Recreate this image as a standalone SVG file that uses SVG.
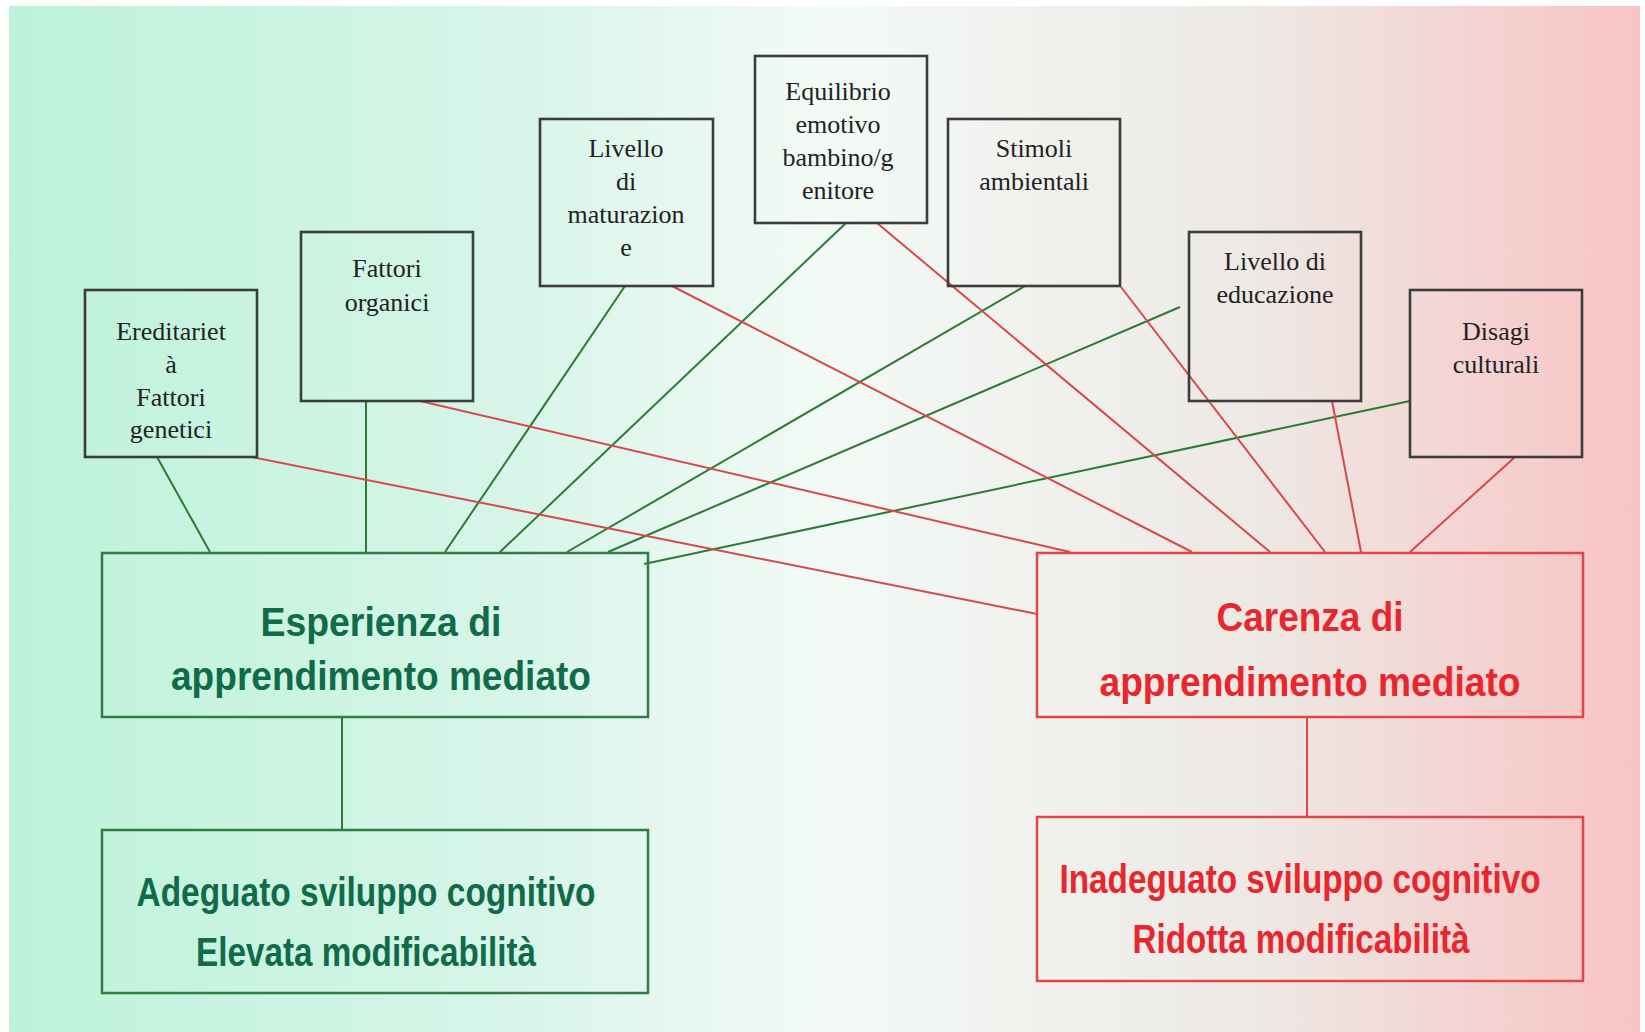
<svg xmlns="http://www.w3.org/2000/svg" width="1645" height="1032" viewBox="0 0 1645 1032">
<defs>
<linearGradient id="bg" x1="0" y1="0" x2="1" y2="0">
<stop offset="0" stop-color="#bdf2da"/>
<stop offset="0.3" stop-color="#d6f5e8"/>
<stop offset="0.5" stop-color="#f3faf6"/>
<stop offset="0.76" stop-color="#ede9e5"/>
<stop offset="1" stop-color="#f8c4c4"/>
</linearGradient>
<style>
.top rect{fill:none;stroke:#3c3c3c;stroke-width:2.6}
.top text{font-family:"Liberation Serif","Times New Roman",serif;font-size:26px;fill:#222;text-anchor:middle}
.g rect{fill:none;stroke:#2f7d45;stroke-width:2.5}
.g text{font-family:"Liberation Sans",Arial,sans-serif;font-weight:bold;font-size:40px;fill:#0f6b48;text-anchor:middle}
.r rect{fill:none;stroke:#e04646;stroke-width:2.5}
.r text{font-family:"Liberation Sans",Arial,sans-serif;font-weight:bold;font-size:40px;fill:#e8262c;text-anchor:middle}
.gl{stroke:#2d7a34;stroke-width:2;fill:none}
.rl{stroke:#d94848;stroke-width:2;fill:none}
</style>
</defs>
<rect x="0" y="0" width="1645" height="1032" fill="#ffffff"/>
<rect x="9" y="6" width="1631" height="1026" fill="url(#bg)"/>

<g id="connectors">
<line class="gl" x1="157" y1="457" x2="210" y2="552"/>
<line class="gl" x1="366" y1="401" x2="366" y2="552"/>
<line class="gl" x1="625" y1="286" x2="445" y2="552"/>
<line class="gl" x1="846" y1="223" x2="500" y2="552"/>
<line class="gl" x1="1025" y1="286" x2="567" y2="552"/>
<line class="gl" x1="1180" y1="307" x2="608" y2="552"/>
<line class="gl" x1="1410" y1="401" x2="644" y2="564"/>
<line class="rl" x1="252" y1="457" x2="1037" y2="614"/>
<line class="rl" x1="420" y1="401" x2="1070" y2="552"/>
<line class="rl" x1="672" y1="286" x2="1192" y2="552"/>
<line class="rl" x1="877" y1="223" x2="1270" y2="552"/>
<line class="rl" x1="1121" y1="287" x2="1325" y2="552"/>
<line class="rl" x1="1332" y1="401" x2="1361" y2="552"/>
<line class="rl" x1="1515" y1="457" x2="1410" y2="552"/>
<line class="gl" x1="342" y1="717" x2="342" y2="830"/>
<line class="rl" x1="1307" y1="717" x2="1307" y2="817"/>
</g>

<g id="ereditarieta" class="top">
<rect x="85" y="290" width="172" height="167"/>
<text x="171" y="340">Ereditariet</text>
<text x="171" y="373">à</text>
<text x="171" y="406">Fattori</text>
<text x="171" y="438">genetici</text>
</g>
<g id="fattori-organici" class="top">
<rect x="301" y="232" width="172" height="169"/>
<text x="387" y="277">Fattori</text>
<text x="387" y="311">organici</text>
</g>
<g id="livello-maturazione" class="top">
<rect x="540" y="119" width="173" height="167"/>
<text x="626" y="157">Livello</text>
<text x="626" y="190">di</text>
<text x="626" y="223">maturazion</text>
<text x="626" y="256">e</text>
</g>
<g id="equilibrio" class="top">
<rect x="755" y="56" width="172" height="167"/>
<text x="838" y="100">Equilibrio</text>
<text x="838" y="133">emotivo</text>
<text x="838" y="166">bambino/g</text>
<text x="838" y="199">enitore</text>
</g>
<g id="stimoli" class="top">
<rect x="948" y="119" width="172" height="167"/>
<text x="1034" y="157">Stimoli</text>
<text x="1034" y="190">ambientali</text>
</g>
<g id="livello-educazione" class="top">
<rect x="1189" y="232" width="172" height="169"/>
<text x="1275" y="270">Livello di</text>
<text x="1275" y="303">educazione</text>
</g>
<g id="disagi" class="top">
<rect x="1410" y="290" width="172" height="167"/>
<text x="1496" y="340">Disagi</text>
<text x="1496" y="373">culturali</text>
</g>

<g id="esperienza" class="g">
<rect x="102" y="553" width="546" height="164"/>
<text x="381" y="636" textLength="241" lengthAdjust="spacingAndGlyphs">Esperienza di</text>
<text x="381" y="690" textLength="420" lengthAdjust="spacingAndGlyphs">apprendimento mediato</text>
</g>
<g id="carenza" class="r">
<rect x="1037" y="553" width="546" height="164"/>
<text x="1310" y="631" textLength="187" lengthAdjust="spacingAndGlyphs">Carenza di</text>
<text x="1310" y="696" textLength="421" lengthAdjust="spacingAndGlyphs">apprendimento mediato</text>
</g>
<g id="adeguato" class="g">
<rect x="102" y="830" width="546" height="163"/>
<text x="366" y="906" textLength="459" lengthAdjust="spacingAndGlyphs">Adeguato sviluppo cognitivo</text>
<text x="366" y="966" textLength="340" lengthAdjust="spacingAndGlyphs">Elevata modificabilità</text>
</g>
<g id="inadeguato" class="r">
<rect x="1037" y="817" width="546" height="164"/>
<text x="1300" y="893" textLength="481" lengthAdjust="spacingAndGlyphs">Inadeguato sviluppo cognitivo</text>
<text x="1301" y="953" textLength="337" lengthAdjust="spacingAndGlyphs">Ridotta modificabilità</text>
</g>
</svg>
